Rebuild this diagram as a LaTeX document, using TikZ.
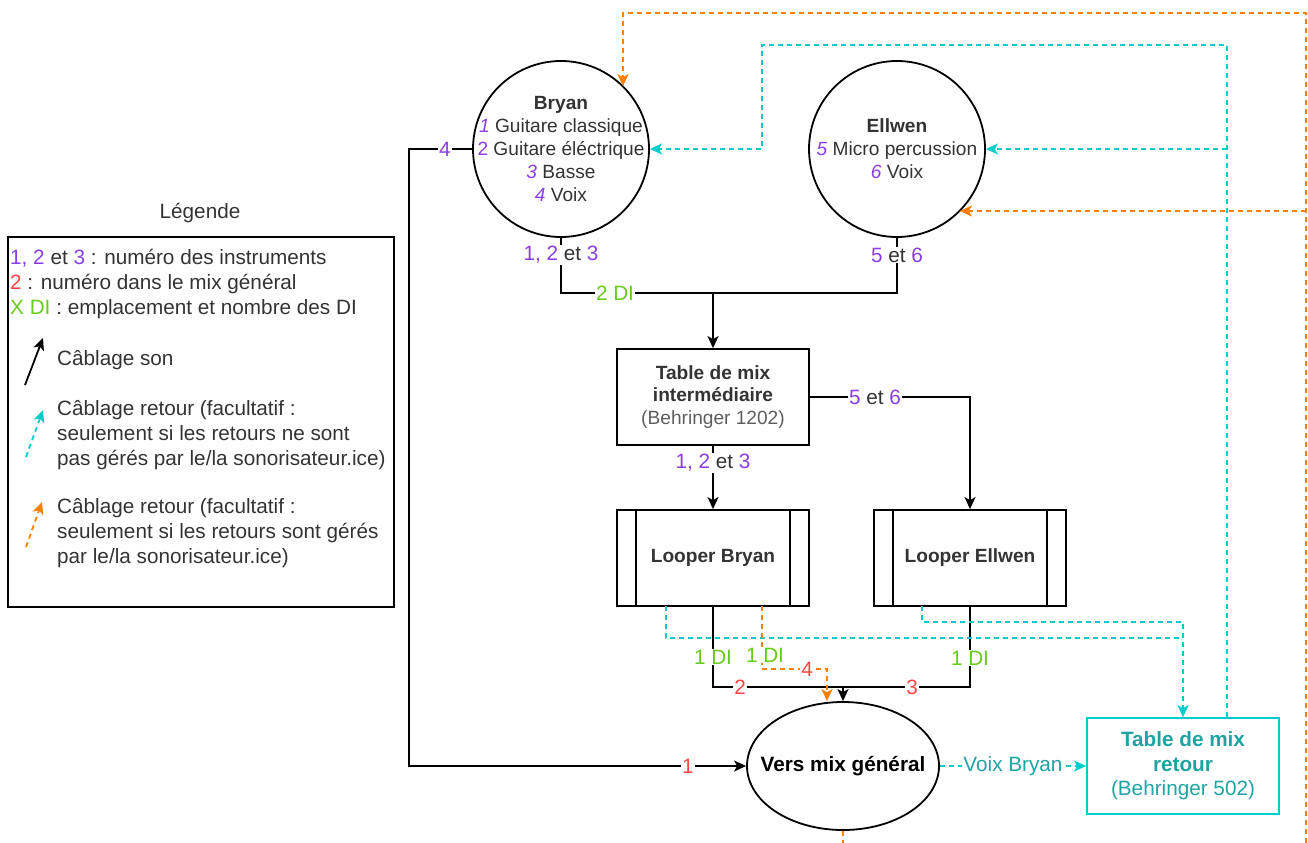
\documentclass[tikz,border=0pt]{standalone}
\usepackage{fontspec}
\setmainfont{Liberation Sans}
\usetikzlibrary{arrows.meta, calc, shapes.geometric}
\definecolor{numviolet}{HTML}{8A3FE6}
\definecolor{mixrouge}{HTML}{FF4545}
\definecolor{divert}{HTML}{66CC1A}
\definecolor{retcyan}{HTML}{00CCCC}
\definecolor{retorange}{HTML}{FF8000}
\definecolor{rettexte}{HTML}{1FA3A3}
\definecolor{txtgris}{HTML}{333333}
\definecolor{txtclair}{HTML}{5E5E5E}
\newcommand{\nv}[1]{\textcolor{numviolet}{#1}}
\newcommand{\nr}[1]{\textcolor{mixrouge}{#1}}
\newcommand{\nd}[1]{\textcolor{divert}{#1}}
\tikzset{%
    son/.style={line width=1.8bp, draw=black},
    sona/.style={son, -{Stealth[length=12bp, width=11bp, inset=3bp]}},
    ret/.style={line width=1.8bp, draw=retcyan, dash pattern=on 5bp off 4bp},
    reta/.style={ret, -{Stealth[length=12bp, width=11bp, inset=3bp]}},
    orn/.style={line width=1.8bp, draw=retorange, dash pattern=on 5bp off 4bp},
    orna/.style={orn, -{Stealth[length=12bp, width=11bp, inset=3bp]}},
    txt/.style={font=\fontsize{19.2}{23}\selectfont, text=txtgris, align=center},
    txtl/.style={font=\fontsize{20.8}{25}\selectfont, text=txtgris},
    blo/.style={rectangle, fill=white, inner sep=1bp, txtl},
    musicien/.style={circle, son, minimum size=176bp, inner sep=0pt},
    boite/.style={rectangle, son, minimum width=192bp, minimum height=96bp, txt},
}

\begin{document}
\begin{tikzpicture}[x=1bp, y=-1bp]
    \useasboundingbox (0,0) rectangle (1308,842);
    \clip (0,0) rectangle (1308,842);
    % legende
    \node[txtl] (legtitre) at (200,213) {Légende};
    \node[son, rectangle, minimum width=386bp, minimum height=370bp] (legende) at (201,422) {};
    \node[txtl, anchor=west, inner sep=0pt] (leg1) at (10,258) {\nv{1, 2} et \nv{3} : numéro des instruments};
    \node[txtl, anchor=west, inner sep=0pt] (leg2) at (10,284) {\nr{2} : numéro dans le mix général};
    \node[txtl, anchor=west, inner sep=0pt] (leg3) at (10,309) {\nd{X DI} : emplacement et nombre des DI};
    \node[txtl, anchor=west, inner sep=0pt] (legson) at (57,360) {Câblage son};
    \node[txtl, anchor=west, inner sep=0pt, align=left] (legcyan) at (57,435) {Câblage retour (facultatif :\\seulement si les retours ne sont\\pas gérés par le/la sonorisateur.ice)};
    \node[txtl, anchor=west, inner sep=0pt, align=left] (legorange) at (57,533) {Câblage retour (facultatif :\\seulement si les retours sont gérés\\par le/la sonorisateur.ice)};
    \coordinate (lsa) at (25,385); \coordinate (lsb) at (43,338);
    \coordinate (lca) at (26,457); \coordinate (lcb) at (43,410);
    \coordinate (loa) at (26,547); \coordinate (lob) at (42,502);
    \draw [sona] (lsa) -- (lsb);
    \draw [reta] (lca) -- (lcb);
    \draw [orna] (loa) -- (lob);
    % musiciens et tables
    \node[musicien] (bryan) at (561,149) {};
    \node[txt] at (bryan) {\textbf{Bryan}\\ \nv{\textit{1}} Guitare classique\\ \nv{2} Guitare éléctrique\\ \nv{\textit{3}} Basse\\ \nv{\textit{4}} Voix};
    \node[musicien] (ellwen) at (897,149) {};
    \node[txt] at (ellwen) {\textbf{Ellwen}\\ \nv{\textit{5}} Micro percussion\\ \nv{\textit{6}} Voix};
    \node[boite] (tableinter) at (713,397) {\textbf{Table de mix}\\ \textbf{intermédiaire}\\ \textcolor{txtclair}{(Behringer 1202)}};
    \node[boite] (looperb) at (713,558) {\textbf{Looper Bryan}};
    \node[boite] (loopere) at (970,558) {\textbf{Looper Ellwen}};
    \foreach \lp in {looperb, loopere} {
        \draw [son] ([xshift=20bp]\lp.north west) -- ([xshift=20bp]\lp.south west);
        \draw [son] ([xshift=-20bp]\lp.north east) -- ([xshift=-20bp]\lp.south east);
    }
    \node[ellipse, son, minimum width=192bp, minimum height=128bp] (mixgen) at (843,766) {};
    \node[txtl, text=black] at (mixgen) {\textbf{Vers mix général}};
    \node[boite, draw=retcyan, font=\fontsize{20.8}{24.5}\selectfont, text=rettexte] (tableret) at (1183,766) {\textbf{Table de mix}\\ \textbf{retour}\\ (Behringer 502)};
    % cablage son
    \coordinate (jin) at (713,293);
    \draw [son] (bryan.south) |- (jin) -| (ellwen.south);
    \draw [sona] (jin) -- (tableinter.north);
    \node[blo] at (561,255) {\nv{1, 2} et \nv{3}};
    \node[blo] at (615,293) {\nd{2 DI}};
    \node[blo] at (897,255) {\nv{5} et \nv{6}};
    \draw [sona] (tableinter.south) -- node[blo, pos=0.27]{\nv{1, 2} et \nv{3}} (looperb.north);
    \draw [sona] (tableinter.east) -| (loopere.north);
    \node[blo] at (875,397) {\nv{5} et \nv{6}};
    \coordinate (jmix) at (843,687);
    \draw [son] (looperb.south) |- (jmix) -| (loopere.south);
    \draw [sona] (jmix) -- (mixgen.north);
    \draw [sona] (bryan.west) -- ++(-63,0) |- (mixgen.west);
    \node[blo] at (445,149) {\nv{4}};
    \node[blo] at (688,766) {\nr{1}};
    % retours cyan
    \coordinate (cbry) at (666,606);
    \coordinate (cell) at (922,606);
    \coordinate (cret) at (1183,622);
    \coordinate (chaut) at (1227,45);
    \draw [ret] (cbry) |- (1183,638);
    \draw [reta] (cell) |- (cret) -- (tableret.north);
    \draw [reta] (mixgen.east) -- node[blo, text=rettexte]{Voix Bryan} (tableret.west);
    \draw [reta] (tableret.north -| chaut) |- (762,45) |- (bryan.east);
    \draw [reta] (chaut |- ellwen.east) -- (ellwen.east);
    % retours orange
    \coordinate (obry) at (762,606);
    \coordinate (omix) at (827,669);
    \coordinate (ohaut) at (1306,13);
    \coordinate (obryh) at (623,13);
    \coordinate (oell) at (1306,211);
    \draw [orna] (obry) |- (omix) -- (omix |- mixgen.north);
    \draw [orna] (mixgen.south) -- ++(0,40) -| (ohaut) -- (obryh) -- (obryh |- bryan.45);
    \draw [orna] (oell) -- (oell -| ellwen.-45);
    % labels DI et mix
    \node[blo] at (713,657) {\nd{1 DI}};
    \node[blo] at (765,655) {\nd{1 DI}};
    \node[blo] at (970,658) {\nd{1 DI}};
    \node[blo] at (740,687) {\nr{2}};
    \node[blo] at (807,669) {\nr{4}};
    \node[blo] at (912,687) {\nr{3}};
\end{tikzpicture}
\end{document}
